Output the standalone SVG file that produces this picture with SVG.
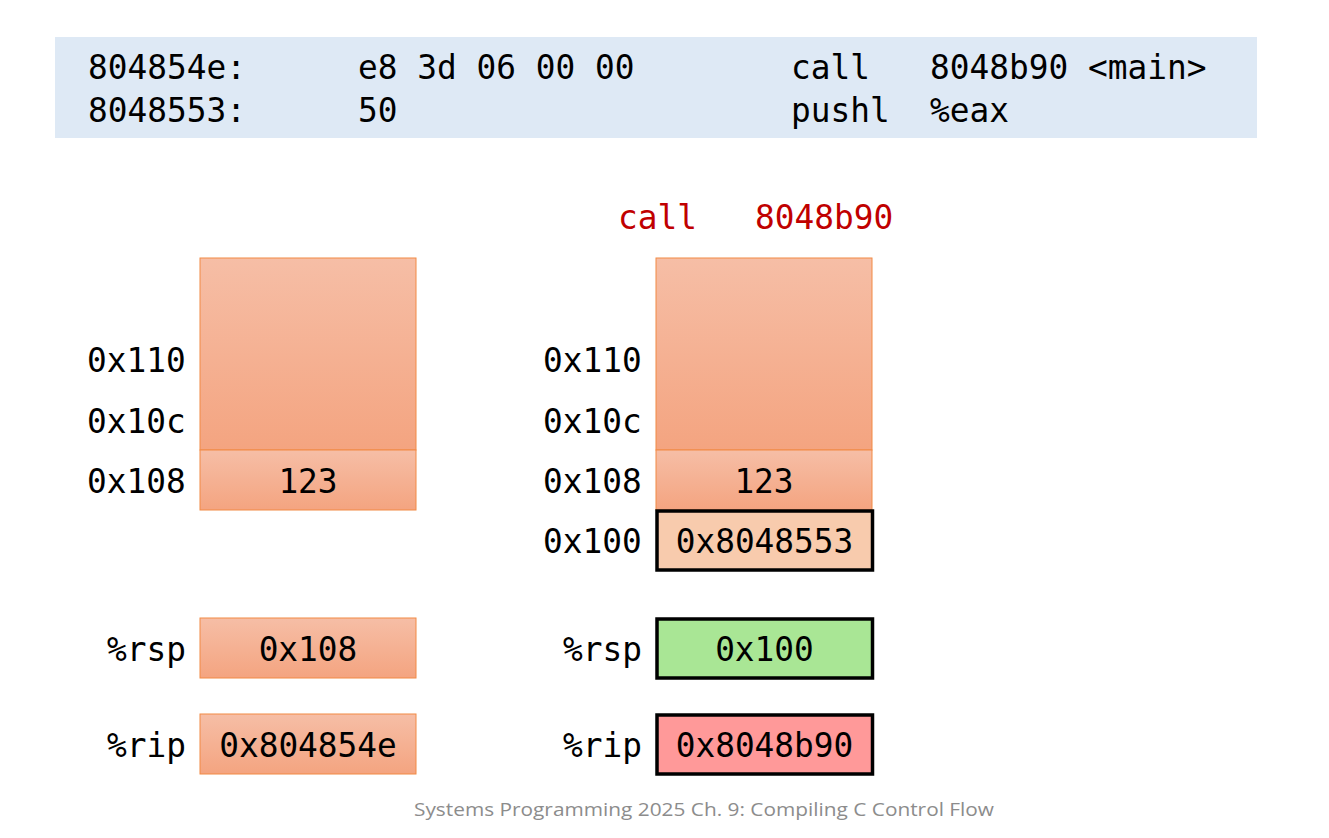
<svg xmlns="http://www.w3.org/2000/svg" width="1329" height="838" viewBox="0 0 1329 838">
<defs>
<linearGradient id="g" x1="0" y1="0" x2="0" y2="1">
<stop offset="0" stop-color="#f6bea6"/>
<stop offset="1" stop-color="#f4a480"/>
</linearGradient>
<style>
.m{font-family:"DejaVu Sans Mono","Liberation Mono",monospace;font-size:32.8px;fill:#000}
.c{text-anchor:middle}
.r{text-anchor:end}
.red{fill:#c00000}
.cell{fill:url(#g);stroke:#f28a45;stroke-width:1}
.b{stroke:#000;stroke-width:3.5}
</style>
</defs>
<rect x="55" y="37" width="1202" height="101" fill="#dee9f5"/>
<g id="code">
<text class="m" x="88" y="79">804854e:</text>
<text class="m" x="358" y="79">e8 3d 06 00 00</text>
<text class="m" x="791" y="79">call</text>
<text class="m" x="930" y="79">8048b90 &lt;main&gt;</text>
<text class="m" x="88" y="122">8048553:</text>
<text class="m" x="358" y="122">50</text>
<text class="m" x="791" y="122">pushl</text>
<text class="m" x="930" y="122">%eax</text>
</g>
<g id="title">
<text class="m red" x="618" y="229">call</text>
<text class="m red" x="755" y="229">8048b90</text>
</g>
<g id="left-stack">
<rect class="cell" x="200" y="258" width="216" height="192"/>
<rect class="cell" x="200" y="450" width="216" height="60"/>
<text class="m c" x="308" y="493">123</text>
<text class="m" x="87" y="372">0x110</text>
<text class="m" x="87" y="433">0x10c</text>
<text class="m" x="87" y="493">0x108</text>
</g>
<g id="left-rsp">
<text class="m r" x="186" y="661">%rsp</text>
<rect class="cell" x="200" y="618" width="216" height="60"/>
<text class="m c" x="308" y="661">0x108</text>
</g>
<g id="left-rip">
<text class="m r" x="186" y="757">%rip</text>
<rect class="cell" x="200" y="714" width="216" height="60"/>
<text class="m c" x="308" y="757">0x804854e</text>
</g>
<g id="right-stack">
<rect class="cell" x="656" y="258" width="216" height="192"/>
<rect class="cell" x="656" y="450" width="216" height="60"/>
<text class="m c" x="764" y="493">123</text>
<text class="m" x="543" y="372">0x110</text>
<text class="m" x="543" y="433">0x10c</text>
<text class="m" x="543" y="493">0x108</text>
</g>
<g id="right-ret">
<text class="m" x="543" y="553">0x100</text>
<rect class="b" x="657" y="511" width="215.5" height="59" fill="#f8cbad"/>
<text class="m c" x="764.5" y="553">0x8048553</text>
</g>
<g id="right-rsp">
<text class="m r" x="642" y="661">%rsp</text>
<rect class="b" x="657" y="619" width="215.5" height="59" fill="#a9e695"/>
<text class="m c" x="764.5" y="661">0x100</text>
</g>
<g id="right-rip">
<text class="m r" x="642" y="757">%rip</text>
<rect class="b" x="657" y="715" width="215.5" height="59" fill="#ff9999"/>
<text class="m c" x="764.5" y="757">0x8048b90</text>
</g>
<g id="connectors"/>
<text x="704" y="816" text-anchor="middle" font-family="'Open Sans','Liberation Sans',sans-serif" font-size="19" fill="#8c8c8c" textLength="580" lengthAdjust="spacingAndGlyphs">Systems Programming 2025 Ch. 9: Compiling C Control Flow</text>
</svg>
